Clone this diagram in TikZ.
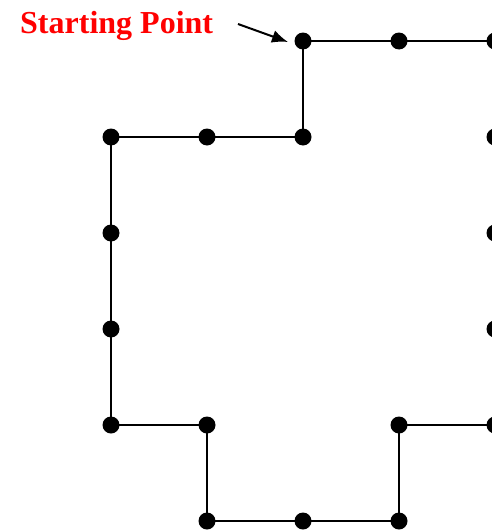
\documentclass[tikz,border=0pt]{standalone}
\usepackage{fontspec}
\setmainfont{Liberation Serif}
\usetikzlibrary{arrows.meta}
\begin{document}
\begin{tikzpicture}[x=1pt,y=-1pt,
  dot/.style={circle,fill=black,draw=none,minimum size=17pt,inner sep=0pt},
  edge/.style={line width=2pt,black},
  lbl/.style={text=red,font=\fontsize{32}{36}\selectfont\bfseries,inner sep=0pt,anchor=base west}]
\useasboundingbox (0,0) rectangle (491,530);
\foreach \n/\x/\y in {a/303/41,b/399/41,c/495/41,d/495/137,e/495/233,f/495/329,g/495/425,
  h/399/425,i/399/521,j/303/521,k/207/521,l/207/425,m/111/425,n/111/329,o/111/233,
  p/111/137,q/207/137,r/303/137}
  \coordinate (\n) at (\x,\y);
\draw[edge] (a)--(b)--(c)--(d)--(e)--(f)--(g)--(h)--(i)--(j)--(k)--(l)--(m)--(n)--(o)--(p)--(q)--(r)--cycle;
\foreach \n in {a,b,c,d,e,f,g,h,i,j,k,l,m,n,o,p,q,r}
  \node[dot] (d\n) at (\n) {};
\node[lbl] (start) at (20,33) {Starting Point};
\coordinate (tail) at (238,24);
\coordinate (tip) at (288,42);
\draw[line width=2pt,-{Latex[length=16pt,width=13pt]}] (tail) -- (tip);
\end{tikzpicture}
\end{document}
